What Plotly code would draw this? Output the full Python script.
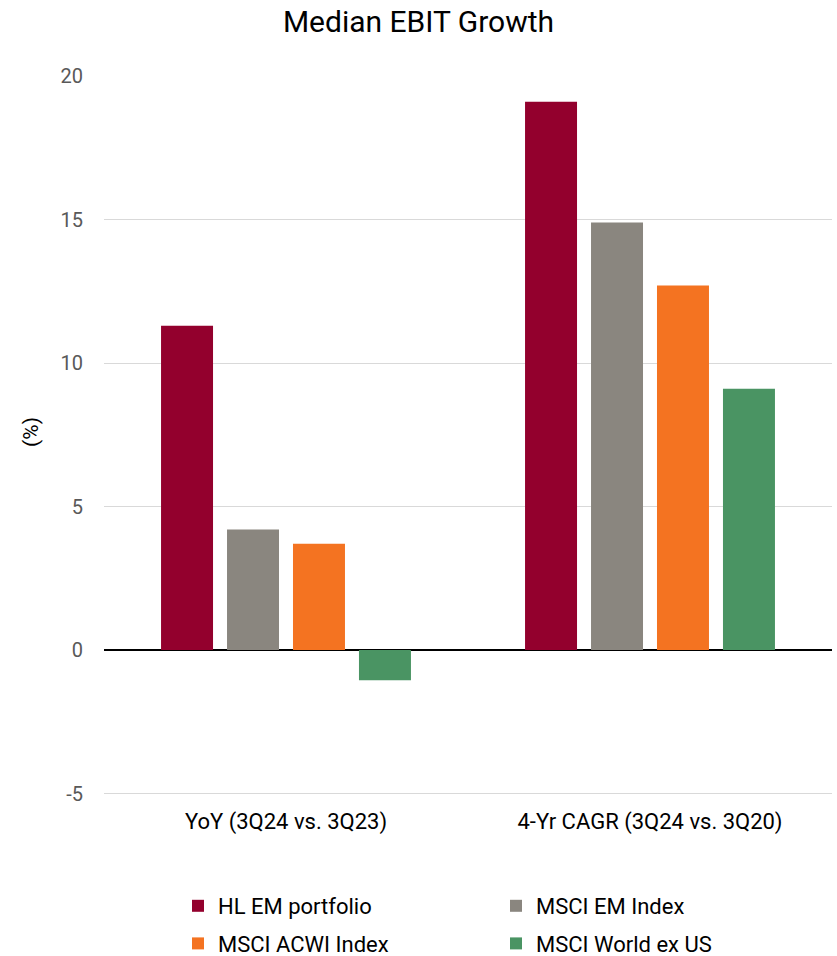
import plotly.graph_objects as go

categories = ["YoY (3Q24 vs. 3Q23)", "4-Yr CAGR (3Q24 vs. 3Q20)"]
series_names = ["HL EM portfolio", "MSCI EM Index", "MSCI ACWI Index", "MSCI World ex US"]
hl_em = [11.3, 19.1]
msci_em = [4.2, 14.9]
msci_acwi = [3.7, 12.7]
msci_world_ex_us = [-1.05, 9.1]
colors = ["#93002D", "#8A867F", "#F47321", "#4A9463"]
legend_ids = ["legend", "legend2", "legend", "legend2"]
y_ticks = [-5, 0, 5, 10, 15, 20]
y_tick_text = ["-5", "0", "5", "10", "15", "20"]
y_title = "(%)"

FONT = "Roboto"
fig = go.Figure()
for i, (name, vals, col, lg) in enumerate(zip(series_names, [hl_em, msci_em, msci_acwi, msci_world_ex_us], colors, legend_ids)):
    fig.add_trace(go.Bar(x=categories, y=vals, name=name, marker_color=col,
                         marker_line_width=0, legend=lg, legendgroup="g%d" % i))

fig.update_layout(
    width=837, height=956,
    margin=dict(l=104, r=5, t=76, b=161, autoexpand=False),
    paper_bgcolor="white", plot_bgcolor="white",
    font=dict(family=FONT, size=20, color="#000000"),
    title=dict(text="Median EBIT Growth", x=0.5, xref="container", xanchor="center",
               y=0.977, yanchor="middle",
               font=dict(family=FONT, size=30, color="#000000")),
    bargap=0.275, bargroupgap=0.212,
    showlegend=True,
    legend=dict(x=178 / 837, y=1 - 885 / 956, xref="container", yref="container",
                xanchor="left", yanchor="top",
                font=dict(family=FONT, size=22, color="#000000"), tracegroupgap=6,
                itemwidth=30, bgcolor="rgba(0,0,0,0)"),
    legend2=dict(x=496 / 837, y=1 - 885 / 956, xref="container", yref="container",
                 xanchor="left", yanchor="top",
                 font=dict(family=FONT, size=22, color="#000000"), tracegroupgap=6,
                 itemwidth=30, bgcolor="rgba(0,0,0,0)"),
    annotations=[dict(text=y_title, xref="paper", yref="paper", x=(31 - 104) / 728, y=0.505,
                      xanchor="center", yanchor="middle", textangle=-90, showarrow=False,
                      font=dict(family=FONT, size=21, color="#000000"))],
)
fig.update_yaxes(range=[-5.05, 20], tickvals=y_ticks, ticktext=y_tick_text,
                 showgrid=True, gridcolor="#D9D9D9", gridwidth=1,
                 zeroline=True, zerolinecolor="#000000", zerolinewidth=2,
                 tickfont=dict(family=FONT, size=20, color="#595959"), ticks="", ticklen=0,
                 ticklabelstandoff=20, showline=False)
fig.update_xaxes(showline=False, ticks="", ticklabelstandoff=11,
                 tickfont=dict(family=FONT, size=22, color="#000000"))

fig.write_html("out.html")
